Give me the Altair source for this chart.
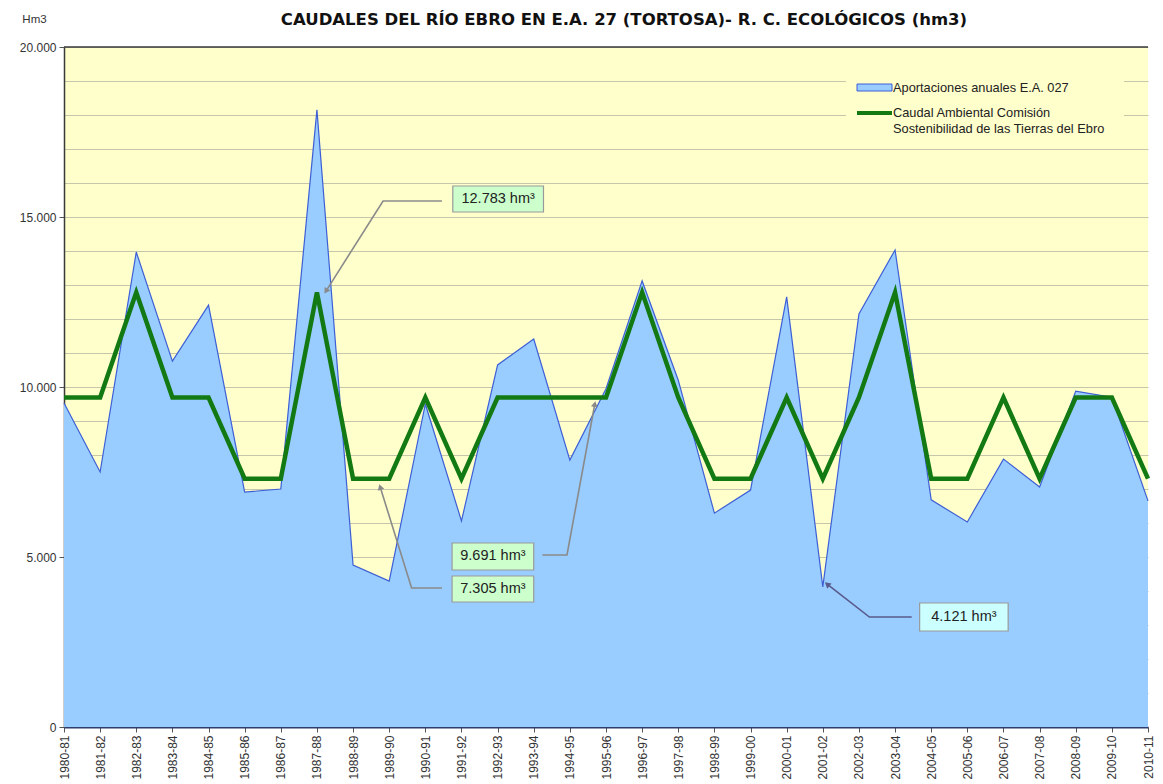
import altair as alt
import pandas as pd

# ---------------- data ----------------
years = ["1980-81", "1981-82", "1982-83", "1983-84", "1984-85", "1985-86", "1986-87",
         "1987-88", "1988-89", "1989-90", "1990-91", "1991-92", "1992-93", "1993-94",
         "1994-95", "1995-96", "1996-97", "1997-98", "1998-99", "1999-00", "2000-01",
         "2001-02", "2002-03", "2003-04", "2004-05", "2005-06", "2006-07", "2007-08",
         "2008-09", "2009-10", "2010-11"]
aportaciones = [9530, 7500, 13970, 10760, 12410, 6910, 7000, 18150, 4760, 4290,
                9500, 6060, 10650, 11410, 7850, 9950, 13120, 10200, 6290, 6970,
                12650, 4121, 12150, 14030, 6680, 6030, 7880, 7060, 9880, 9700, 6650]
caudal = [9691, 9691, 12783, 9691, 9691, 7305, 7305, 12783, 7305, 7305,
          9691, 7305, 9691, 9691, 9691, 9691, 12783, 9691, 7305, 7305,
          9691, 7305, 9691, 12783, 7305, 7305, 9691, 7305, 9691, 9691, 7305]

title_text = "CAUDALES DEL RÍO EBRO EN E.A. 27 (TORTOSA)- R. C. ECOLÓGICOS (hm3)"
legend_texts = ["Aportaciones anuales E.A. 027", "Caudal Ambiental Comisión",
                "Sostenibilidad de las Tierras del Ebro"]

# annotation boxes (in data units: year index / hm3)
ann_labels = ["12.783 hm³", "9.691 hm³", "7.305 hm³", "4.121 hm³"]
ann_x1 = [10.76, 10.74, 10.74, 23.68]
ann_x2 = [13.27, 13.00, 13.00, 26.13]
ann_y1 = [15147, 4618, 3676, 2824]
ann_y2 = [15912, 5412, 4441, 3647]
ann_fill = ["#ccffcc", "#ccffcc", "#ccffcc", "#ccffff"]

# leader lines (data units)
lead_id = ["a", "a", "a", "b", "b", "b", "c", "c", "c", "d", "d", "d"]
lead_ord = [0, 1, 2, 0, 1, 2, 0, 1, 2, 0, 1, 2]
lead_x = [10.46, 8.83, 7.25, 13.24, 13.92, 14.69, 10.46, 9.62, 8.75, 23.46, 22.29, 21.12]
lead_y = [15470, 15470, 12820, 5059, 5059, 9500, 4088, 4088, 7060, 3235, 3235, 4200]
lead_col = ["#8a8a8a"] * 9 + ["#5a5a8c"] * 3
tip_angle = [212, 10, 343, 309]

W, H = 1084, 680

df = pd.DataFrame({"i": list(range(len(years))), "year": years,
                   "aportaciones": aportaciones, "caudal": caudal})
ann = pd.DataFrame({"label": ann_labels, "x1": ann_x1, "x2": ann_x2,
                    "y1": ann_y1, "y2": ann_y2, "fill": ann_fill})
ann["xc"] = (ann["x1"] + ann["x2"]) / 2
ann["yc"] = (ann["y1"] + ann["y2"]) / 2
lead = pd.DataFrame({"id": lead_id, "o": lead_ord, "x": lead_x, "y": lead_y, "col": lead_col})
tips = lead[lead["o"] == 2].copy()
tips["angle"] = tip_angle

label_expr = "[" + ",".join("'%s'" % y for y in years) + "][datum.value]"

xscale = alt.Scale(domain=[0, len(years) - 1], nice=False, zero=False)
yscale = alt.Scale(domain=[0, 20000], nice=False)

xaxis = alt.Axis(values=list(range(len(years))), labelExpr=label_expr, labelAngle=270,
                 labelAlign="right", labelBaseline="middle", labelFlush=False,
                 labelOverlap=False, labelBound=False, tickSize=5, tickColor="#555555",
                 labelPadding=3, grid=False, domainColor="#2d3d6d", domainWidth=2,
                 labelFont="Liberation Sans", labelFontSize=12, labelColor="#333333",
                 title=None)
yaxis = alt.Axis(values=list(range(0, 20001, 1000)),
                 labelExpr="datum.value % 5000 === 0 ? replace(format(datum.value, ','), ',', '.') : ''",
                 labelOverlap=False,
                 tickOpacity={"condition": {"test": "datum.value % 5000 === 0", "value": 1}, "value": 0},
                 tickSize=5, tickColor="#555555", labelPadding=3,
                 grid=True, gridColor="#c6c6aa", gridWidth=1,
                 domainColor="#3a3a3a", domainWidth=1.5,
                 labelFont="Liberation Sans", labelFontSize=12, labelColor="#333333",
                 title="Hm3", titleAngle=0, titleAlign="center", titleBaseline="middle",
                 titleX=-30, titleY=-28, titleFont="Liberation Sans", titleFontSize=11.5,
                 titleFontWeight="normal", titleColor="#333333")


def X(f):
    return alt.X(f, scale=xscale, axis=xaxis)


def Y(f):
    return alt.Y(f, scale=yscale, axis=yaxis)


base = alt.Chart(df)
area = base.mark_area(color="#99ccff", opacity=1,
                      line={"color": "#3d5fd6", "strokeWidth": 1.2}).encode(
    x=X("i:Q"), y=Y("aportaciones:Q"))
green = base.mark_line(color="#137a13", strokeWidth=4.5).encode(
    x=X("i:Q"), y=Y("caudal:Q"))

# legend (manual)
one = pd.DataFrame({"k": [0]})
leg_bg = alt.Chart(one).mark_rect(fill="#ffffcc").encode(
    x=alt.value(782), x2=alt.value(1060), y=alt.value(22), y2=alt.value(100))
leg_sw1 = alt.Chart(one).mark_rect(fill="#99ccff", stroke="#3d5fd6", strokeWidth=1).encode(
    x=alt.value(793), x2=alt.value(828), y=alt.value(37), y2=alt.value(44))
leg_sw2 = alt.Chart(one).mark_rule(color="#137a13", strokeWidth=4).encode(
    x=alt.value(793), x2=alt.value(828), y=alt.value(66))
leg_txt = alt.Chart(pd.DataFrame({"t": legend_texts, "py": [41, 66, 82]})).mark_text(
    align="left", baseline="middle", font="Liberation Sans", fontSize=12.8,
    color="#222222").encode(
    x=alt.value(829), y=alt.Y("py:Q", scale=None), text="t:N")

leaders = alt.Chart(lead).mark_line(strokeWidth=1.6).encode(
    x=X("x:Q"), y=Y("y:Q"),
    detail="id:N", order="o:Q", color=alt.Color("col:N", scale=None))
heads = alt.Chart(tips).mark_point(shape="triangle-up", filled=True, size=45, opacity=1).encode(
    x=X("x:Q"), y=Y("y:Q"),
    angle=alt.Angle("angle:Q", scale=None), color=alt.Color("col:N", scale=None))
boxes = alt.Chart(ann).mark_rect(stroke="#9a9a9a", strokeWidth=1.2).encode(
    x=X("x1:Q"), x2="x2:Q", y=Y("y1:Q"), y2="y2:Q",
    fill=alt.Fill("fill:N", scale=None))
texts = alt.Chart(ann).mark_text(font="Liberation Sans", fontSize=14.5, color="#222222",
                                 baseline="middle").encode(
    x=X("xc:Q"), y=Y("yc:Q"), text="label:N")

top_border = alt.Chart(one).mark_rule(color="#3a3a3a", strokeWidth=1.5).encode(
    x=alt.value(0), x2=alt.value(W), y=alt.value(0))

title = alt.Chart(pd.DataFrame({"t": [title_text]})).mark_text(
    font="DejaVu Sans", fontSize=16.5, fontWeight="bold", color="#111111",
    align="center", baseline="middle").encode(
    x=alt.value(560), y=alt.value(-27), text="t:N")

chart = alt.layer(area, green, leg_bg, leg_sw1, leg_sw2, leg_txt, leaders, heads,
                  boxes, texts, top_border, title).properties(
    width=W, height=H,
    autosize=alt.AutoSizeParams(type="none"),
    padding={"left": 56, "top": 39, "right": 7, "bottom": 56},
    background="white",
).configure_view(fill="#ffffcc", stroke=None)

chart.save("out.html", embed_options={"renderer": "svg", "actions": False})
